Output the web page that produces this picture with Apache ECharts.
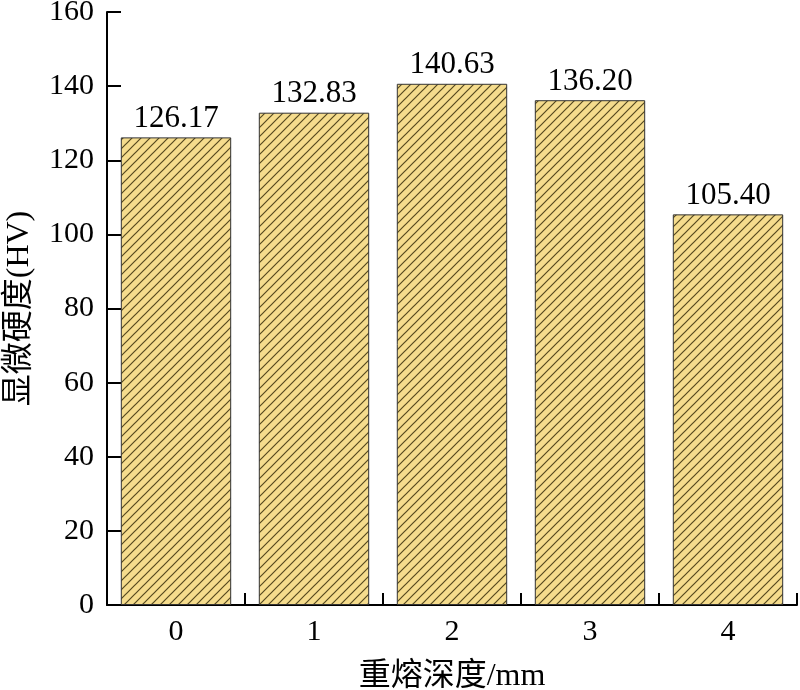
<!DOCTYPE html>
<html><head><meta charset="utf-8">
<script src="https://cdn.jsdelivr.net/npm/echarts@6/dist/echarts.min.js"></script>
<style>html,body{margin:0;padding:0;background:#fff}#c{width:800px;height:690px}</style>
</head><body><div id="c"></div>
<script>
const categories = ['0', '1', '2', '3', '4'];
const hardness = [126.17, 132.83, 140.63, 136.20, 105.40];
const labelTexts = ['126.17', '132.83', '140.63', '136.20', '105.40'];
const yTicks = [0, 20, 40, 60, 80, 100, 120, 140, 160];

function hatch() {
  const s = 9;
  const c = document.createElement('canvas');
  c.width = s; c.height = s;
  const g = c.getContext('2d');
  g.fillStyle = '#F5DC8D';
  g.fillRect(0, 0, s, s);
  g.strokeStyle = '#55491f';
  g.lineWidth = 1.2;
  g.beginPath();
  g.moveTo(-1, s + 1); g.lineTo(s + 1, -1);
  g.moveTo(-1, 1); g.lineTo(1, -1);
  g.moveTo(s - 1, s + 1); g.lineTo(s + 1, s - 1);
  g.stroke();
  return c;
}

const serif = "'Liberation Serif', 'Times New Roman', 'Noto Sans CJK SC', serif";
const chart = echarts.init(document.getElementById('c'), null, {renderer: 'canvas'});
chart.setOption({
  animation: false,
  grid: {left: 107, right: 3, top: 12, bottom: 85, containLabel: false, outerBoundsMode: 'none'},
  xAxis: {
    type: 'category',
    data: categories,
    name: '重熔深度/mm',
    nameLocation: 'middle',
    nameGap: 56,
    nameTextStyle: {fontFamily: serif, fontSize: 32, color: '#000'},
    axisLine: {lineStyle: {color: '#000', width: 2}},
    axisTick: {show: true, inside: true, length: 12, alignWithLabel: false, lineStyle: {color: '#000', width: 2}},
    axisLabel: {fontFamily: serif, fontSize: 30, color: '#000', margin: 12},
    splitLine: {show: false}
  },
  yAxis: {
    type: 'value',
    min: 0, max: 160, interval: 20,
    name: '显微硬度(HV)',
    nameLocation: 'middle',
    nameGap: 71,
    nameTextStyle: {fontFamily: serif, fontSize: 32, color: '#000'},
    axisLine: {show: true, lineStyle: {color: '#000', width: 2}},
    axisTick: {show: true, inside: true, length: 14, lineStyle: {color: '#000', width: 2}},
    axisLabel: {fontFamily: serif, fontSize: 30, color: '#000', margin: 13,
      formatter: v => yTicks.includes(v) ? String(v) : ''},
    splitLine: {show: false}
  },
  series: [{
    type: 'bar',
    data: hardness,
    barWidth: '80%',
    itemStyle: {color: {image: hatch(), repeat: 'repeat'}, borderColor: '#333', borderWidth: 1},
    label: {
      show: true, position: 'top', distance: 3,
      fontFamily: serif, fontSize: 31, color: '#000',
      formatter: p => labelTexts[p.dataIndex]
    }
  }]
});
</script></body></html>
